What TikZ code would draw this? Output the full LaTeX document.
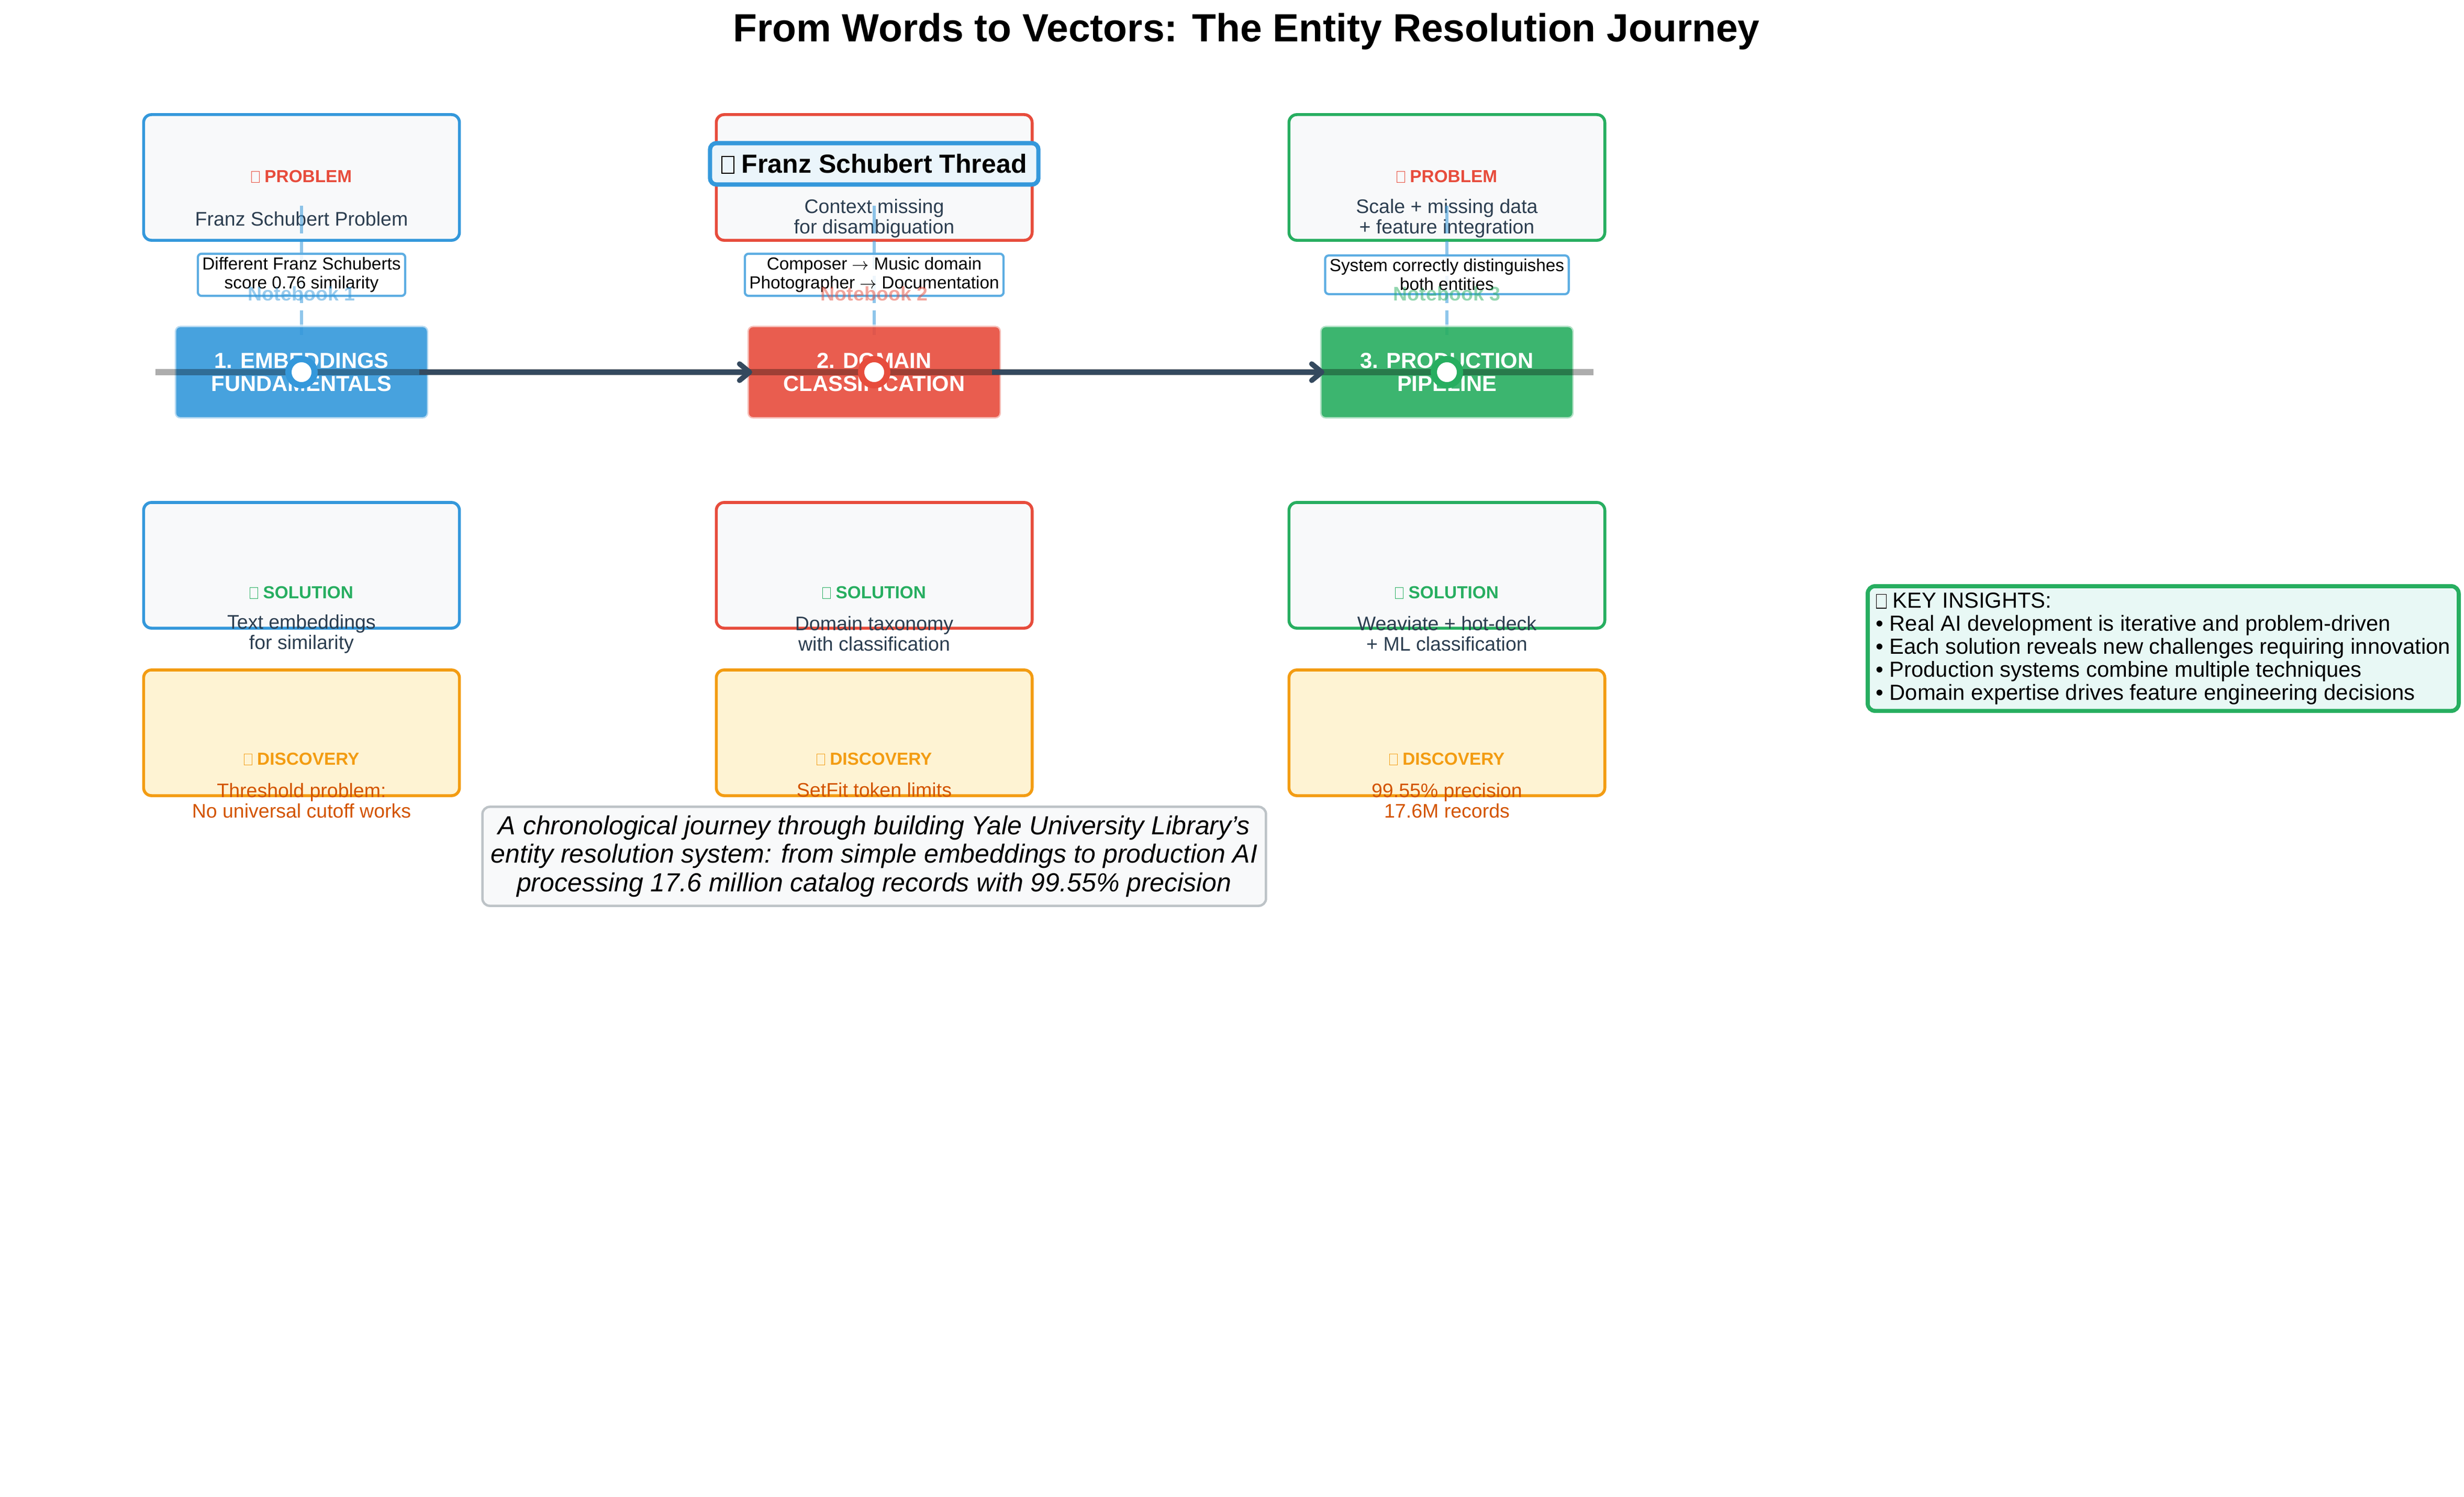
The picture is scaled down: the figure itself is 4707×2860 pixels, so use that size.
\documentclass[tikz,border=0pt]{standalone}
\usepackage{fontspec}
\setmainfont{Liberation Sans}
\usetikzlibrary{arrows.meta}
\definecolor{cblue}{HTML}{3498DB}
\definecolor{cred}{HTML}{E74C3C}
\definecolor{cgreen}{HTML}{27AE60}
\definecolor{corange}{HTML}{F39C12}
\definecolor{cdark}{HTML}{2C3E50}
\definecolor{cdisc}{HTML}{D35400}
\definecolor{cbg}{HTML}{F8F9FA}
\definecolor{cdiscbg}{HTML}{FEF3D3}
\definecolor{cthread}{HTML}{EBF5FB}
\definecolor{cann}{HTML}{5DADE2}
\definecolor{ccapb}{HTML}{BDC3C7}
\definecolor{cins}{HTML}{E8F8F5}
\definecolor{cnavy}{HTML}{34495E}
\newcommand{\tofu}{{\setlength{\fboxsep}{0pt}\setlength{\fboxrule}{0.035em}\fbox{\rule{0pt}{0.6em}\hspace{0.42em}}}}
\tikzset{
  infobox/.style={rectangle, rounded corners=4.3pt, line width=1.6pt, minimum width=6.03cm, minimum height=2.40cm, inner sep=0pt},
  lab/.style={font=\bfseries\fontsize{9.48}{10.24}\selectfont, inner sep=0pt},
  bodytxt/.style={font=\fontsize{10.67}{11.1}\selectfont, align=center, inner sep=0pt, text=cdark},
  disctxt/.style={font=\fontsize{10.67}{11.1}\selectfont, align=center, inner sep=0pt, text=cdisc},
  stagebox/.style={rectangle, rounded corners=3pt, minimum width=4.84cm, minimum height=1.77cm, fill opacity=0.9, text opacity=1, draw=white, draw opacity=0.6, line width=1.5pt, text=white, font=\bfseries\fontsize{11.86}{12.5}\selectfont, align=center, inner sep=0pt},
  annbox/.style={rectangle, rounded corners=2pt, draw=cann, line width=1.2pt, fill=white, fill opacity=0.85, text opacity=1, font=\fontsize{9.48}{10.24}\selectfont, align=center, inner xsep=2.4pt, inner ysep=1.9pt},
  nbtxt/.style={font=\bfseries\fontsize{10.67}{11}\selectfont, text opacity=0.5, inner sep=0pt},
  dashline/.style={draw=cblue, draw opacity=0.55, line width=1.7pt, dash pattern=on 15pt off 4pt},
  tline/.style={draw=black, draw opacity=0.32, line width=3.5pt},
  flow/.style={draw=cnavy, line width=2.8pt, -{Straight Barb[length=5.5pt,width=9pt,round]}},
  dot/.style={circle, fill=white, line width=3.4pt, minimum size=0.50cm, inner sep=0pt}
}
\begin{document}
\begin{tikzpicture}[x=0.01cm,y=-0.01cm]
\useasboundingbox[fill=white] (0,0) rectangle (4707,2860);

% title
\node[font=\bfseries\fontsize{21.34}{23}\selectfont, inner sep=0pt] (title) at (2381,60) {From Words to Vectors: The Entity Resolution Journey};

% problem boxes
\node[infobox, draw=cblue, fill=cbg] (p1) at (576,339) {};
\node[infobox, draw=cred, fill=cbg] (p2) at (1670,339) {};
\node[infobox, draw=cgreen, fill=cbg] (p3) at (2764,339) {};
\node[lab, text=cred] (p1l) at (576,337) {\tofu\ PROBLEM};
\node[lab, text=cred] (p3l) at (2764,337) {\tofu\ PROBLEM};
\node[bodytxt] (p1b) at (576,418) {Franz Schubert Problem};
\node[bodytxt] (p2b) at (1670,417) {Context missing\\for disambiguation};
\node[bodytxt] (p3b) at (2764,417) {Scale + missing data\\+ feature integration};

% dashed threads
\coordinate (d1a) at (576,393); \coordinate (d1b) at (576,640);
\coordinate (d2a) at (1670,393); \coordinate (d2b) at (1670,640);
\coordinate (d3a) at (2764,393); \coordinate (d3b) at (2764,640);
\draw[dashline] (d1a) -- (d1b);
\draw[dashline] (d2a) -- (d2b);
\draw[dashline] (d3a) -- (d3b);

% annotation boxes and notebook labels
\node[annbox] (n1) at (576,525) {Different Franz Schuberts\\score 0.76 similarity};
\node[annbox] (n2) at (1670,525) {Composer $\rightarrow$ Music domain\\Photographer $\rightarrow$ Documentation};
\node[annbox] (n3) at (2764,525) {System correctly distinguishes\\both entities};
\node[nbtxt, text=cblue] (nb1) at (576,561) {Notebook 1};
\node[nbtxt, text=cred] (nb2) at (1670,561) {Notebook 2};
\node[nbtxt, text=cgreen] (nb3) at (2764,561) {Notebook 3};

% stage boxes
\node[stagebox, fill=cblue] (s1) at (576,711) {1. EMBEDDINGS\\FUNDAMENTALS};
\node[stagebox, fill=cred] (s2) at (1670,711) {2. DOMAIN\\CLASSIFICATION};
\node[stagebox, fill=cgreen] (s3) at (2764,711) {3. PRODUCTION\\PIPELINE};

% timeline
\coordinate (tl0) at (297,711); \coordinate (tl1) at (3044,711);
\draw[tline] (tl0) -- (tl1);
\coordinate (a1s) at (801,711); \coordinate (a1e) at (1437,711);
\coordinate (a2s) at (1895,711); \coordinate (a2e) at (2530,711);
\draw[flow] (a1s) -- (a1e);
\draw[flow] (a2s) -- (a2e);
\node[dot, draw=cblue] (m1) at (576,711) {};
\node[dot, draw=cred] (m2) at (1670,711) {};
\node[dot, draw=cgreen] (m3) at (2764,711) {};

% thread title
\node[rectangle, rounded corners=3.5pt, draw=cblue, line width=2.3pt, fill=cthread, font=\bfseries\fontsize{14.23}{15}\selectfont, minimum width=6.27cm, minimum height=0.79cm, inner sep=0pt] (thread) at (1670,313) {\tofu\ Franz Schubert Thread};

% solution boxes
\node[infobox, draw=cblue, fill=cbg] (q1) at (576,1080) {};
\node[infobox, draw=cred, fill=cbg] (q2) at (1670,1080) {};
\node[infobox, draw=cgreen, fill=cbg] (q3) at (2764,1080) {};
\node[lab, text=cgreen] (q1l) at (576,1132) {\tofu\ SOLUTION};
\node[lab, text=cgreen] (q2l) at (1670,1132) {\tofu\ SOLUTION};
\node[lab, text=cgreen] (q3l) at (2764,1132) {\tofu\ SOLUTION};
\node[bodytxt] (q1b) at (576,1211) {Text embeddings\\for similarity};
\node[bodytxt] (q2b) at (1670,1211) {Domain taxonomy\\with classification};
\node[bodytxt] (q3b) at (2764,1211) {Weaviate + hot-deck\\+ ML classification};

% discovery boxes
\node[infobox, draw=corange, fill=cdiscbg] (r1) at (576,1400) {};
\node[infobox, draw=corange, fill=cdiscbg] (r2) at (1670,1400) {};
\node[infobox, draw=corange, fill=cdiscbg] (r3) at (2764,1400) {};
\node[lab, text=corange] (r1l) at (576,1450) {\tofu\ DISCOVERY};
\node[lab, text=corange] (r2l) at (1670,1450) {\tofu\ DISCOVERY};
\node[lab, text=corange] (r3l) at (2764,1450) {\tofu\ DISCOVERY};
\node[disctxt] (r1b) at (576,1530) {Threshold problem:\\No universal cutoff works};
\node[disctxt, anchor=base] (r2b) at (1670,1522) {SetFit token limits};
\node[disctxt] (r3b) at (2764,1530) {99.55\% precision\\17.6M records};

% caption
\node[rectangle, rounded corners=4pt, draw=ccapb, line width=1.3pt, fill=cbg, minimum width=14.96cm, minimum height=1.89cm, align=center, inner sep=0pt, font=\itshape\fontsize{14.23}{15.4}\selectfont] (cap) at (1670,1636) {A chronological journey through building Yale University Library's\\entity resolution system: from simple embeddings to production AI\\processing 17.6 million catalog records with 99.55\% precision};

% key insights
\node[rectangle, rounded corners=4pt, draw=cgreen, line width=2.2pt, fill=cins, anchor=west, align=left, inner xsep=4.5pt, inner ysep=3.5pt, font=\fontsize{11.86}{12.5}\selectfont] (ki) at (3564,1239) {\tofu\ KEY INSIGHTS:\\• Real AI development is iterative and problem-driven\\• Each solution reveals new challenges requiring innovation\\• Production systems combine multiple techniques\\• Domain expertise drives feature engineering decisions};
\end{tikzpicture}
\end{document}
